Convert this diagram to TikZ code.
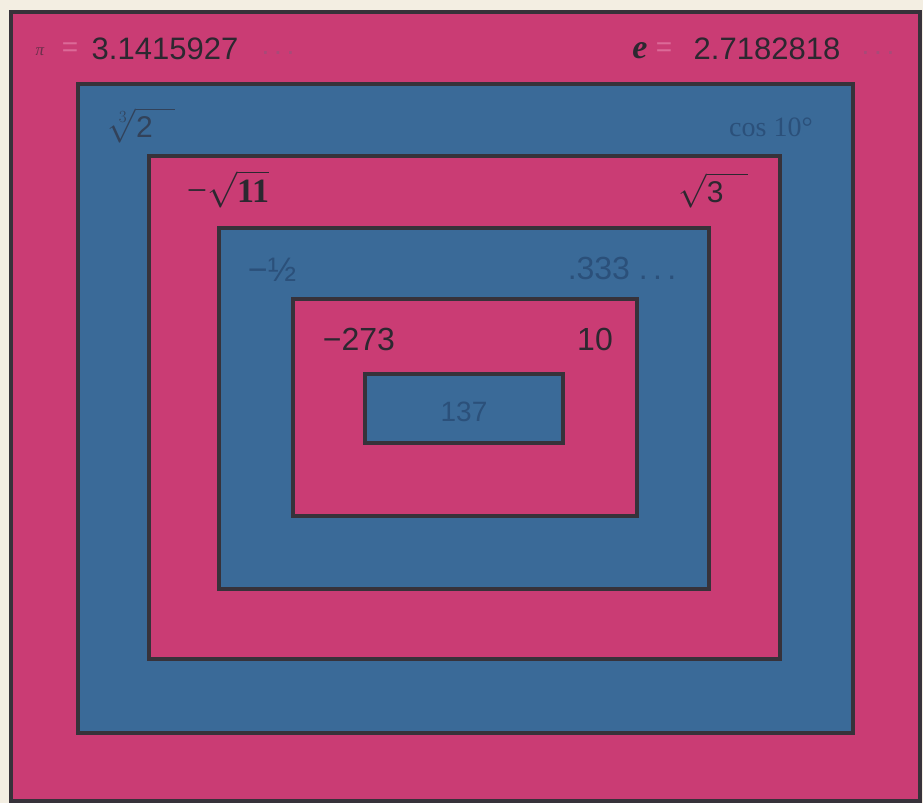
\RequirePackage{fix-cm}
\documentclass[tikz,border=0pt]{standalone}
\usepackage{amsmath}
\usepackage{fontspec}
\setmainfont{Liberation Sans}
\newfontfamily\serifnum{Liberation Serif}
\definecolor{cream}{HTML}{F3EEE2}
\definecolor{pinkbox}{HTML}{CA3C74}
\definecolor{bluebox}{HTML}{3A6A98}
\definecolor{rim}{HTML}{37323A}
\definecolor{ink}{HTML}{2C2830}
\definecolor{pinkfade}{HTML}{DC6A98}
\definecolor{pinkdot}{HTML}{A84A78}
\definecolor{bluefade}{HTML}{2B507A}
\tikzset{
  pinkframe/.style={fill=pinkbox, draw=rim, line width=4.5pt},
  blueframe/.style={fill=bluebox, draw=rim, line width=4.5pt},
  lbl/.style={inner sep=0pt, text=ink},
  fade/.style={inner sep=0pt, text=bluefade},
}
\newcommand{\fs}[1]{\fontsize{#1}{#1}\selectfont}
\begin{document}
\begin{tikzpicture}[x=1pt,y=-1pt]
\useasboundingbox (0,0) rectangle (923,803);
\fill[cream] (0,0) rectangle (923,803);
\draw[pinkframe] (11,12) rectangle (920,801);
\draw[blueframe] (78,84) rectangle (853,733);
\draw[pinkframe] (149,156) rectangle (780,659);
\draw[blueframe] (219,228) rectangle (709,589);
\draw[pinkframe] (293,299) rectangle (637,516);
\draw[blueframe] (365,374) rectangle (563,443);

% top line
\node[lbl, text=ink!60!pinkbox] (pi) at (40,52) {\fs{17}\serifnum\itshape π};
\node[lbl, text=pinkfade] (eq1) at (70,50) {\fs{28}=};
\node[lbl] (piv) at (165,49) {\fs{31}3.1415927};
\node[lbl, text=pinkdot] (pid) at (278,53) {\fs{28}.\,.\,.};
\node[lbl] (e) at (640,51) {\fs{34}\serifnum\bfseries\itshape e};
\node[lbl, text=pinkfade] (eq2) at (664,50) {\fs{28}=};
\node[lbl] (ev) at (767,49) {\fs{31}2.7182818};
\node[lbl, text=pinkdot] (ed) at (878,53) {\fs{28}.\,.\,.};

% second ring
\node[lbl, text=ink!60!bluebox] (cbrt) at (142,125) {\fs{34}$\sqrt[3]{\text{\fs{30}2}\kern22pt}$};
\node[fade] (cos) at (771,127) {\fs{28}\serifnum cos 10\textdegree};

% third ring
\node[lbl] (m11) at (228,189) {\fs{36}\serifnum −$\sqrt{\text{\fs{34}\serifnum\bfseries 11}}$};
\node[lbl] (r3) at (713,190) {\fs{34}$\sqrt{\text{\fs{30}3}\kern24pt}$};

% fourth ring
\node[fade] (half) at (272,270) {\fs{34}−½};
\node[fade] (third) at (622,268) {\fs{32}.333 .\,.\,.};

% fifth ring
\node[lbl] (m273) at (359,339) {\fs{32}−273};
\node[lbl] (ten) at (595,339) {\fs{32}10};

% centre
\node[fade] (c137) at (464,412) {\fs{28}137};
\end{tikzpicture}
\end{document}
